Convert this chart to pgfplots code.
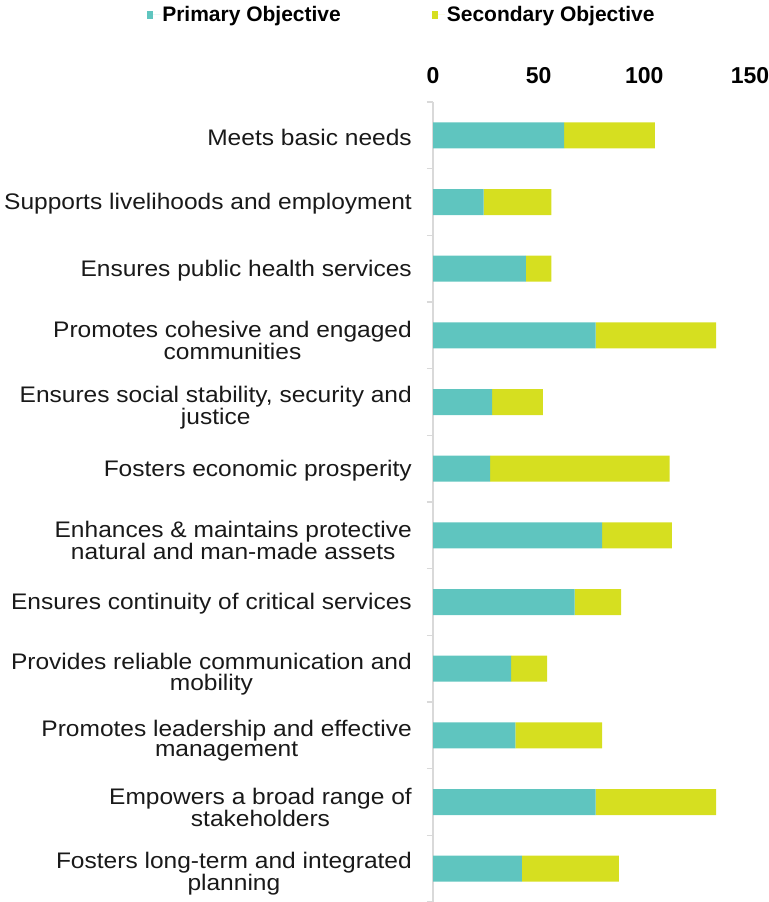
\documentclass[border=0pt]{standalone}
\usepackage{fontspec}
\setmainfont{Liberation Sans}
\newfontfamily\lblfont[FakeStretch=1.09]{Liberation Sans}
\usepackage{pgfplots}
\usepackage{pgfplotstable}
\pgfplotsset{compat=1.18}
\definecolor{prim}{HTML}{5FC5BF}
\definecolor{sec}{HTML}{D6DF20}
\definecolor{axgray}{HTML}{D9D9D9}
% strut that pushes two-line labels down a little
\newcommand\tl{\rule{0pt}{23bp}}

% value per objective: P = primary, S = secondary
\pgfplotstableread{
id P S
0 62 43
1 24 32
2 44 12
3 77 57
4 28 24
5 27 85
6 80 33
7 67 22
8 37 17
9 39 41
10 77 57
11 42 46
}\objtable

\begin{document}
\begin{tikzpicture}
\useasboundingbox (0,0) rectangle (769bp,902bp);
\begin{axis}[
  at={(433bp,0bp)}, anchor=south west,
  scale only axis,
  width=317bp, height=800bp,
  xbar stacked,
  bar width=26bp,
  xmin=0, xmax=150,
  ymin=-0.5, ymax=11.5,
  y dir=reverse,
  axis x line*=top,
  axis y line*=left,
  x axis line style={draw=none},
  y axis line style={draw=axgray, line width=1.2bp},
  xtick={0,50,100,150},
  xtick style={draw=none},
  /pgf/number format/assume math mode=true,
  xticklabel style={font=\bfseries\fontsize{23bp}{23bp}\selectfont, anchor=base, yshift=19bp, inner sep=0pt},
  ytick={0,...,11},
  minor ytick={-0.5,0.5,...,11.5},
  major tick length=0pt,
  minor tick length=6bp,
  tick align=outside,
  ytick style={draw=axgray, line width=1.2bp},
  yticklabel style={font=\lblfont\fontsize{22.5bp}{20.5bp}\selectfont, align=center, anchor=east, inner sep=0pt, xshift=-21bp, yshift=-2bp, text=black!90},
  yticklabels={
    {Meets basic needs},
    {Supports livelihoods and employment},
    {Ensures public health services},
    {\tl Promotes cohesive and engaged\\communities},
    {\tl Ensures social stability, security and\\justice},
    {Fosters economic prosperity},
    {\tl Enhances \& maintains protective\\natural and man-made assets},
    {Ensures continuity of critical services},
    {\tl Provides reliable communication and\\mobility},
    {\tl Promotes leadership and effective\\management},
    {\tl Empowers a broad range of\\stakeholders},
    {\tl Fosters long-term and integrated\\planning}},
  legend columns=2,
  legend style={at={(axis description cs:-0.902,1.109)}, anchor=west, draw=none, fill=none,
    font=\bfseries\fontsize{21bp}{21bp}\selectfont, inner sep=0pt,
    /tikz/every even column/.append style={column sep=89bp}},
  legend image code/.code={\fill[#1] (0bp,-4bp) rectangle (6bp,4bp); \path (0bp,0bp) -- (13bp,0bp);},
]
\addplot[fill=prim, draw=none] table[x=P, y=id] {\objtable};
\addplot[fill=sec, draw=none] table[x=S, y=id] {\objtable};
\legend{Primary Objective, Secondary Objective}
\end{axis}
\end{tikzpicture}
\end{document}
